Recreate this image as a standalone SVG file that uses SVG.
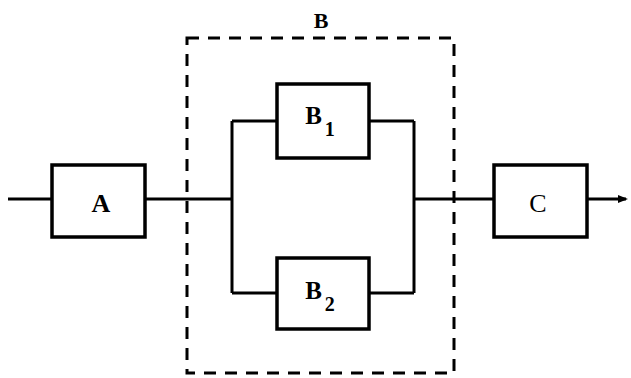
<svg xmlns="http://www.w3.org/2000/svg" width="631" height="378" viewBox="0 0 631 378">
<style>
.box{fill:none;stroke:#000;stroke-width:3.5}
.ln{fill:none;stroke:#000;stroke-width:3}
.dash{fill:none;stroke:#000;stroke-width:3;stroke-dasharray:12,9}
.t{font-family:"Liberation Serif",serif;font-weight:bold;font-size:22px;text-anchor:middle}
.big{font-size:26px}
.mid{font-size:25px}
.s{font-family:"Liberation Serif",serif;font-weight:bold;font-size:20px}
</style>
<defs>
<marker id="ah" markerWidth="10" markerHeight="10" refX="8" refY="5" orient="auto" markerUnits="userSpaceOnUse">
<path d="M0,1 L10,5 L0,9 Z" fill="#000"/>
</marker>
</defs>
<rect fill="#fff" width="631" height="378"/>
<g id="connectors">
<path class="ln" d="M8,199 H52"/>
<path class="ln" d="M145,199 H232"/>
<path class="ln" d="M232,121 V293"/>
<path class="ln" d="M232,121 H277"/>
<path class="ln" d="M232,293 H277"/>
<path class="ln" d="M369,121 H414"/>
<path class="ln" d="M369,293 H414"/>
<path class="ln" d="M414,121 V293"/>
<path class="ln" d="M414,199 H494"/>
<path class="ln" d="M587,199 H626" marker-end="url(#ah)"/>
</g>
<g id="B">
<rect class="dash" x="187" y="38" width="267" height="335"/>
<text class="t" x="321" y="28">B</text>
</g>
<g id="A">
<rect class="box" x="52" y="165" width="93" height="72"/>
<text class="t big" x="101" y="212">A</text>
</g>
<g id="B1">
<rect class="box" x="277" y="84" width="92" height="74"/>
<text class="t mid" x="320" y="124">B<tspan class="s" dx="3" dy="12">1</tspan></text>
</g>
<g id="B2">
<rect class="box" x="277" y="258" width="92" height="71"/>
<text class="t mid" x="320" y="299">B<tspan class="s" dx="3" dy="12">2</tspan></text>
</g>
<g id="C">
<rect class="box" x="494" y="165" width="93" height="72"/>
<text class="t big" x="538" y="212" style="font-weight:normal">C</text>
</g>
</svg>
